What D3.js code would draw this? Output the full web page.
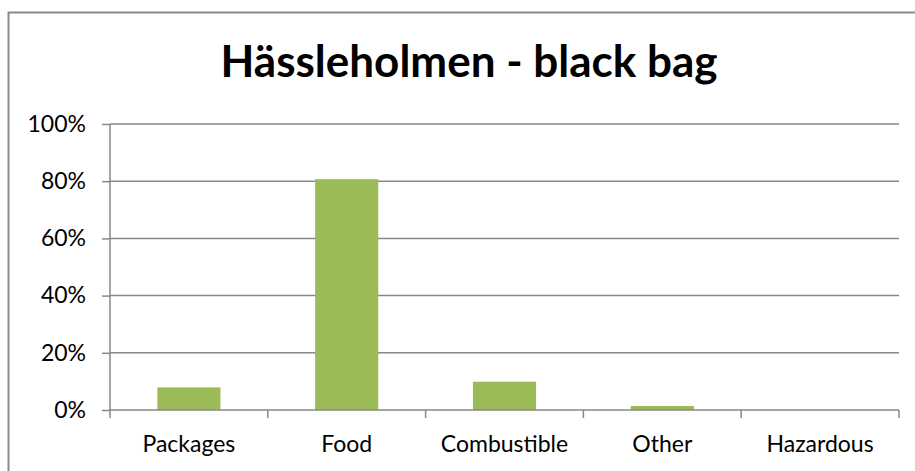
<!DOCTYPE html>
<html>
<head>
<meta charset="utf-8">
<script src="https://cdn.jsdelivr.net/npm/d3@7/dist/d3.min.js"></script>
<style>
  html, body { margin: 0; padding: 0; background: #fff; overflow: hidden; }
  svg { display: block; font-family: Lato, "Open Sans", sans-serif; }
</style>
</head>
<body>
<svg id="chart" width="915" height="471"></svg>
<script>
// Waste composition of the black bag, share by fraction
const categories = ["Packages", "Food", "Combustible", "Other", "Hazardous"];
const shares = [0.079, 0.807, 0.099, 0.014, 0.0];
const yTicks = [0, 0.2, 0.4, 0.6, 0.8, 1.0];
const yTickLabels = ["0%", "20%", "40%", "60%", "80%", "100%"];
const title = "Hässleholmen - black bag";

const svg = d3.select("#chart");
const plot = { left: 110, right: 899, top: 124, bottom: 410 };
const gray = "#888888";
const labelSize = "23px";

// outer chart frame (runs past the right and bottom edges)
svg.append("rect")
  .attr("x", 8.5).attr("y", 12.5)
  .attr("width", 1000).attr("height", 1000)
  .attr("fill", "#fff")
  .attr("stroke", "#8a8a8a").attr("stroke-width", 2);

const x = d3.scaleBand()
  .domain(categories)
  .range([plot.left, plot.right])
  .paddingInner(0.6).paddingOuter(0.3);

const xOuter = d3.scaleBand()
  .domain(categories)
  .range([plot.left, plot.right]);

const y = d3.scaleLinear().domain([0, 1]).range([plot.bottom, plot.top]);

// horizontal gridlines
svg.append("g")
  .selectAll("line")
  .data(yTicks.filter(t => t > 0))
  .join("line")
  .attr("x1", plot.left).attr("x2", plot.right)
  .attr("y1", d => y(d)).attr("y2", d => y(d))
  .attr("stroke", gray).attr("stroke-width", 1.5);

// bars
svg.append("g")
  .selectAll("rect")
  .data(categories.map((c, i) => ({ c, v: shares[i] })))
  .join("rect")
  .attr("x", d => x(d.c))
  .attr("width", x.bandwidth())
  .attr("y", d => y(d.v))
  .attr("height", d => y(0) - y(d.v))
  .attr("fill", "#9bbb59");

// y axis
const yAxis = d3.axisLeft(y)
  .tickValues(yTicks)
  .tickFormat((d, i) => yTickLabels[i])
  .tickSize(8)
  .tickPadding(16);

const gy = svg.append("g")
  .attr("transform", `translate(${plot.left},0)`)
  .call(yAxis);
gy.select(".domain").remove();
gy.append("line")
  .attr("x1", 0).attr("x2", 0)
  .attr("y1", plot.top).attr("y2", plot.bottom + 8)
  .attr("stroke", gray).attr("stroke-width", 1.5);
gy.selectAll(".tick line").attr("stroke", gray).attr("stroke-width", 1.5);
gy.selectAll(".tick text")
  .attr("fill", "#000")
  .style("font-size", labelSize)
  .style("font-family", "Lato, 'Open Sans', sans-serif");

// x axis: baseline with ticks at category boundaries
const gx = svg.append("g").attr("transform", `translate(0,${plot.bottom})`);
gx.append("line")
  .attr("x1", plot.left).attr("x2", plot.right)
  .attr("y1", 0).attr("y2", 0)
  .attr("stroke", gray).attr("stroke-width", 1.5);
const boundaries = categories.map(c => xOuter(c) + xOuter.bandwidth());
gx.selectAll("line.sep")
  .data(boundaries)
  .join("line")
  .attr("class", "sep")
  .attr("x1", d => d).attr("x2", d => d)
  .attr("y1", 0).attr("y2", 8)
  .attr("stroke", gray).attr("stroke-width", 1.5);
gx.selectAll("text")
  .data(categories)
  .join("text")
  .attr("x", d => xOuter(d) + xOuter.bandwidth() / 2)
  .attr("y", 42)
  .attr("text-anchor", "middle")
  .attr("fill", "#000")
  .style("font-size", labelSize)
  .text(d => d);

// title
svg.append("text")
  .attr("x", 469)
  .attr("y", 77)
  .attr("text-anchor", "middle")
  .attr("fill", "#000")
  .style("font-size", "44px")
  .style("font-weight", "bold")
  .text(title);
</script>
</body>
</html>
